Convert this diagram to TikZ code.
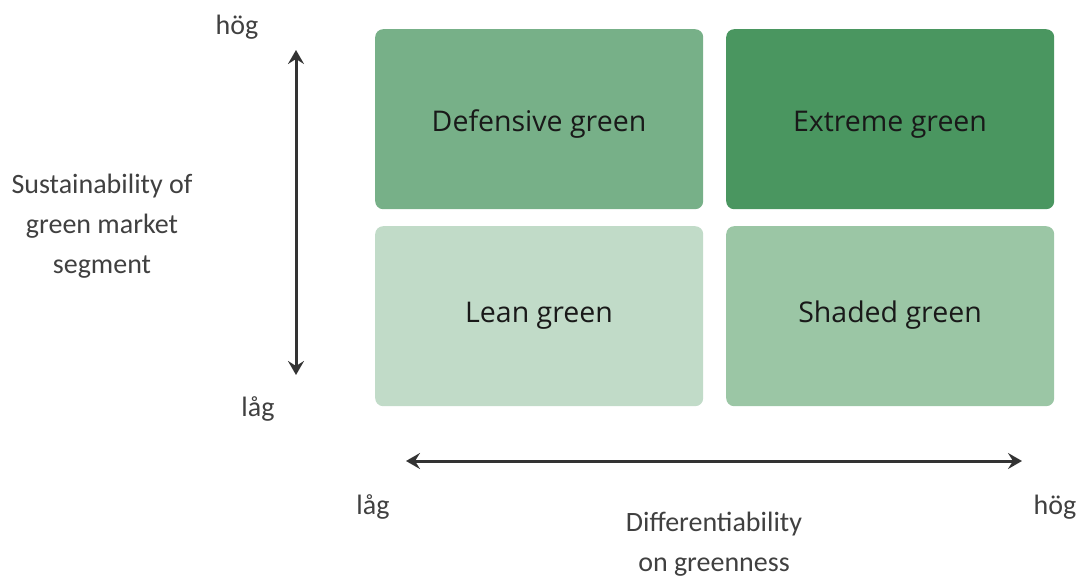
\documentclass[tikz,border=0pt]{standalone}
\usepackage{fontspec}
\setmainfont{Carlito}
\newfontfamily\boxfont{Open Sans}
\usetikzlibrary{arrows.meta}
\definecolor{cdef}{HTML}{77B088}
\definecolor{cext}{HTML}{4A9660}
\definecolor{clean}{HTML}{C1DBC8}
\definecolor{cshade}{HTML}{9BC6A5}
\definecolor{carrow}{HTML}{333333}
\definecolor{clabel}{HTML}{404040}
\tikzset{
  quad/.style={rounded corners=8pt, minimum width=328pt, minimum height=180pt, inner sep=0pt, anchor=north west},
  boxtext/.style={font=\boxfont\fontsize{28.5}{34}\selectfont, text=black!90, inner sep=0pt, anchor=base},
  lbl/.style={font=\fontsize{28}{40}\selectfont, text=clabel, align=center, inner sep=0pt},
  axis/.style={carrow, line width=3pt, {Stealth[length=14pt,width=16pt,inset=5pt]}-{Stealth[length=14pt,width=16pt,inset=5pt]}}
}
\begin{document}
\begin{tikzpicture}[x=1pt,y=-1pt]
\useasboundingbox (0,0) rectangle (1079,577);
\node[quad, fill=cdef] (def) at (375,29) {};
\node[quad, fill=cext] (ext) at (726,29) {};
\node[quad, fill=clean] (lean) at (375,226) {};
\node[quad, fill=cshade] (shade) at (726,226) {};
\node[boxtext] (tdef) at (539,131.5) {Defensive green};
\node[boxtext] (text) at (890,131.5) {Extreme green};
\node[boxtext] (tlean) at (539,323) {Lean green};
\node[boxtext] (tshade) at (890,323) {Shaded green};
\coordinate (vt) at (296,50);
\coordinate (vb) at (296,375);
\coordinate (hl) at (406,461);
\coordinate (hr) at (1022,461);
\draw[axis] (vt) -- (vb);
\draw[axis] (hl) -- (hr);
\node[lbl] (hogy) at (237,27) {hög};
\node[lbl] (lagy) at (258,409) {låg};
\node[lbl] (lagx) at (373,507) {låg};
\node[lbl] (hogx) at (1055,507) {hög};
\node[lbl] (ylab) at (102,226) {Sustainability of\\green market\\segment};
\node[lbl] (xlab) at (714,544) {Differentiability\\on greenness};
\end{tikzpicture}
\end{document}
